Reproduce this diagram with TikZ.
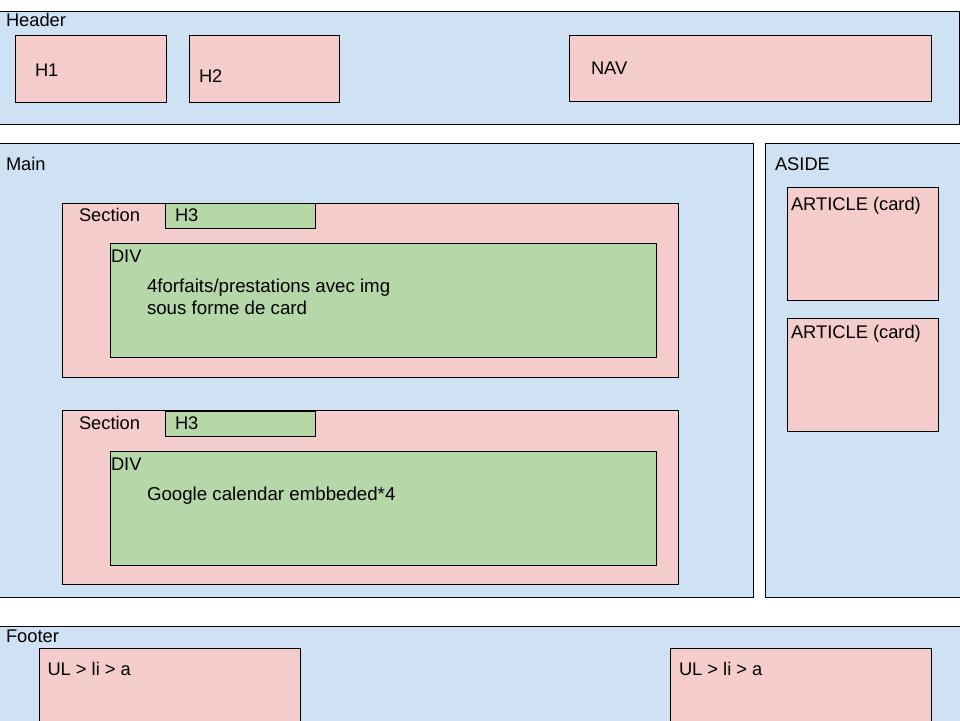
\documentclass[tikz,border=0pt]{standalone}
\usepackage{fontspec}
\setmainfont{Liberation Sans}
\definecolor{zoneblue}{HTML}{CFE2F3}
\definecolor{blockpink}{HTML}{F4CCCC}
\definecolor{leafgreen}{HTML}{B6D7A8}
\begin{document}
\begin{tikzpicture}[x=1pt,y=-1pt,
  box/.style={draw=black, line width=1pt, inner sep=0pt, outer sep=0pt, anchor=north west},
  zone/.style={box, fill=zoneblue},
  block/.style={box, fill=blockpink},
  leaf/.style={box, fill=leafgreen},
  sz/.style 2 args={minimum width=#1pt, minimum height=#2pt},
  tag/.style={anchor=base west, inner sep=0pt, outer sep=0pt, font=\fontsize{18.3}{22}\selectfont},
  body/.style={tag, font=\fontsize{18.7}{22}\selectfont}]
\useasboundingbox (0,0) rectangle (960,720);
\clip (0,0) rectangle (960,720);

% page header
\node[zone, sz={962}{113}] (header) at (-3,11) {};
\node[tag] (headerlbl) at (6,27) {Header};
\node[block, sz={151}{67}] (hone) at (15,35) {};
\node[tag] (honelbl) at (35,76) {H1};
\node[block, sz={150}{67}] (htwo) at (189,35) {};
\node[tag] (htwolbl) at (199,82) {H2};
\node[block, sz={362}{66}] (nav) at (569,35) {};
\node[tag] (navlbl) at (591,74) {NAV};

% main column
\node[zone, sz={756}{454}] (main) at (-3,143) {};
\node[tag] (mainlbl) at (6,170.5) {Main};

\node[block, sz={616}{174}] (secone) at (62,203) {};
\node[tag] (seconelbl) at (79,221.5) {Section};
\node[leaf, sz={150}{25}] (hthreeone) at (165,203) {};
\node[tag] (hthreeonelbl) at (175,221.5) {H3};
\node[leaf, sz={546}{114}] (divone) at (110,243) {};
\node[tag] (divonelbl) at (111,262.5) {DIV};
\node[body] (divonetxta) at (147,292) {4forfaits/prestations avec img};
\node[body] (divonetxtb) at (147,314) {sous forme de card};

\node[block, sz={616}{174}] (sectwo) at (62,410) {};
\node[tag] (sectwolbl) at (79,429.5) {Section};
\node[leaf, sz={150}{25}] (hthreetwo) at (165,411) {};
\node[tag] (hthreetwolbl) at (175,429.5) {H3};
\node[leaf, sz={546}{114}] (divtwo) at (110,451) {};
\node[tag] (divtwolbl) at (111,470.5) {DIV};
\node[body] (divtwotxt) at (147,500) {Google calendar embbeded*4};

% aside column
\node[zone, sz={200}{454}] (aside) at (765,143) {};
\node[tag] (asidelbl) at (775,170.5) {ASIDE};
\node[block, sz={151}{113}] (artone) at (787,187) {};
\node[tag] (artonelbl) at (791,210.5) {ARTICLE (card)};
\node[block, sz={151}{113}] (arttwo) at (787,318) {};
\node[tag] (arttwolbl) at (791,338.5) {ARTICLE (card)};

% page footer
\node[zone, sz={968}{110}] (footer) at (-3,626) {};
\node[tag] (footerlbl) at (6,642.5) {Footer};
\node[block, sz={261}{90}] (ulone) at (39,648) {};
\node[tag] (ulonelbl) at (47.5,675) {UL > li > a};
\node[block, sz={261}{90}] (ultwo) at (670,648) {};
\node[tag] (ultwolbl) at (679,675) {UL > li > a};
\end{tikzpicture}
\end{document}
